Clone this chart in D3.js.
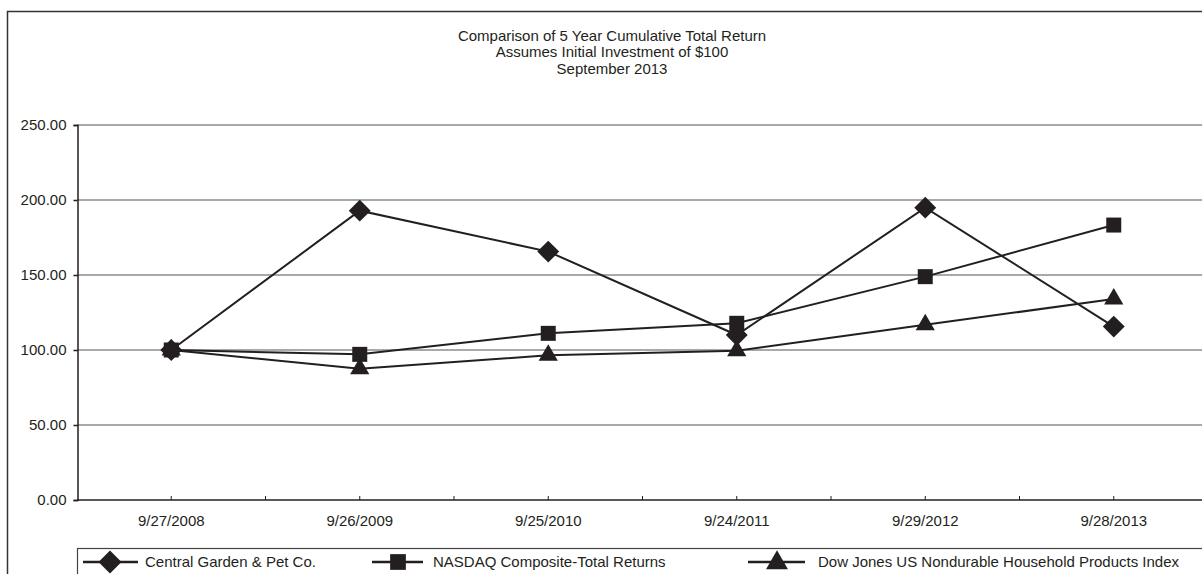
<!DOCTYPE html>
<meta charset="utf-8">
<style>
body { margin: 0; background: #fff; }
svg { display: block; font-family: "Liberation Sans", Arial, sans-serif; }
.grid line { stroke: #8c8c8c; stroke-width: 1.5; }
.series { fill: none; stroke: #231f20; stroke-width: 2; }
.mark { fill: #231f20; }
text { fill: #231f20; font-size: 15px; }
</style>
<body>
<script src="https://cdn.jsdelivr.net/npm/d3@7"></script>
<script>

// data
var dates = ['9/27/2008', '9/26/2009', '9/25/2010', '9/24/2011', '9/29/2012', '9/28/2013'];
var central = [100, 192.9, 165.6, 110.0, 194.9, 115.6];
var nasdaq  = [100, 97.1, 111.1, 117.8, 148.9, 183.3];
var dowjones = [100, 87.5, 96.5, 99.5, 116.8, 134.0];
var seriesNames = ['Central Garden & Pet Co.', 'NASDAQ Composite-Total Returns', 'Dow Jones US Nondurable Household Products Index'];
var yTicks = [0, 50, 100, 150, 200, 250];
var titleLines = ['Comparison of 5 Year Cumulative Total Return', 'Assumes Initial Investment of $100', 'September 2013'];

var W = 1202, H = 574,
    plot = {left: 77, right: 1208, top: 125, bottom: 500};

var svg = d3.select("body").append("svg")
    .attr("width", W)
    .attr("height", H);

// outer frame (runs off the right and bottom edge)
svg.append("rect")
    .attr("x", 7.5).attr("y", 11.5)
    .attr("width", W).attr("height", H)
    .attr("fill", "none").attr("stroke", "#333").attr("stroke-width", 1.5);

var x = d3.scalePoint().domain(dates).range([plot.left, plot.right]).padding(0.5),
    y = d3.scaleLinear().domain([0, 250]).range([plot.bottom, plot.top]);

// title
svg.append("g").selectAll("text")
    .data(titleLines).enter()
  .append("text")
    .attr("x", 612)
    .attr("y", function(d, i) { return 40.5 + i * 16.8; })
    .attr("text-anchor", "middle")
    .text(function(d) { return d; });

// gridlines
svg.append("g").attr("class", "grid")
  .selectAll("line")
    .data(yTicks.filter(function(d) { return d > 0; })).enter()
  .append("line")
    .attr("x1", plot.left).attr("x2", plot.right)
    .attr("y1", function(d) { return y(d); })
    .attr("y2", function(d) { return y(d); });

// y axis
var yAxis = d3.axisLeft(y).tickValues(yTicks).tickSize(4).tickPadding(7)
    .tickFormat(d3.format(".2f"));
var gy = svg.append("g")
    .attr("transform", "translate(" + (plot.left + 0.5) + ",0)")
    .call(yAxis);
gy.select(".domain").attr("stroke", "#231f20").attr("stroke-width", 1.5);
gy.selectAll(".tick line").attr("stroke", "#231f20").attr("stroke-width", 1.5);
gy.selectAll(".tick text").attr("font-size", null).attr("font-family", null);

// x axis: ticks at categories and between them
var step = x.step();
var xTickPos = d3.range(0, dates.length * 2).map(function(i) { return plot.left + step * (i + 1) / 2; });
var gx = svg.append("g");
gx.append("line")
    .attr("x1", plot.left).attr("x2", plot.right)
    .attr("y1", plot.bottom).attr("y2", plot.bottom)
    .attr("stroke", "#231f20").attr("stroke-width", 1.5);
gx.selectAll(".xt")
    .data(xTickPos).enter()
  .append("line")
    .attr("class", "xt")
    .attr("x1", function(d) { return d; }).attr("x2", function(d) { return d; })
    .attr("y1", plot.bottom).attr("y2", plot.bottom - 4)
    .attr("stroke", "#231f20").attr("stroke-width", 1);
gx.selectAll(".xl")
    .data(dates).enter()
  .append("text")
    .attr("class", "xl")
    .attr("x", function(d) { return x(d); })
    .attr("y", 526)
    .attr("text-anchor", "middle")
    .text(function(d) { return d; });

// series
var allSeries = [central, nasdaq, dowjones];
var symbols = [
  {type: d3.symbolSquare, size: 240, rotate: 45},
  {type: d3.symbolSquare, size: 225, rotate: 0},
  {type: d3.symbolTriangle, size: 160, rotate: 0}
];

var line = d3.line()
    .x(function(d, i) { return x(dates[i]); })
    .y(function(d) { return y(d); });

allSeries.forEach(function(s, k) {
  svg.append("path")
      .attr("class", "series")
      .attr("d", line(s));
});

allSeries.forEach(function(s, k) {
  svg.append("g").selectAll("path")
      .data(s).enter()
    .append("path")
      .attr("class", "mark")
      .attr("transform", function(d, i) {
        return "translate(" + x(dates[i]) + "," + y(d) + ") rotate(" + symbols[k].rotate + ")";
      })
      .attr("d", d3.symbol().type(symbols[k].type).size(symbols[k].size));
});

// legend
var legend = svg.append("g");
legend.append("rect")
    .attr("x", 77.5).attr("y", 548.5)
    .attr("width", W).attr("height", 60)
    .attr("fill", "none").attr("stroke", "#444").attr("stroke-width", 1.2);

var legItems = [
  {x1: 83, x2: 138, mx: 110, tx: 145},
  {x1: 372, x2: 423, mx: 398, tx: 433},
  {x1: 748, x2: 805, mx: 777, tx: 818}
];
var legY = 562;
legItems.forEach(function(it, k) {
  legend.append("line")
      .attr("x1", it.x1).attr("x2", it.x2)
      .attr("y1", legY).attr("y2", legY)
      .attr("stroke", "#231f20").attr("stroke-width", 2.5);
  legend.append("path")
      .attr("class", "mark")
      .attr("transform", "translate(" + it.mx + "," + (legY + (k == 2 ? 1 : 0)) + ") rotate(" + symbols[k].rotate + ")")
      .attr("d", d3.symbol().type(symbols[k].type).size(symbols[k].size * (k == 2 ? 1.3 : 1.1)));
  legend.append("text")
      .attr("x", it.tx)
      .attr("y", 567)
      .text(seriesNames[k]);
});

</script>
